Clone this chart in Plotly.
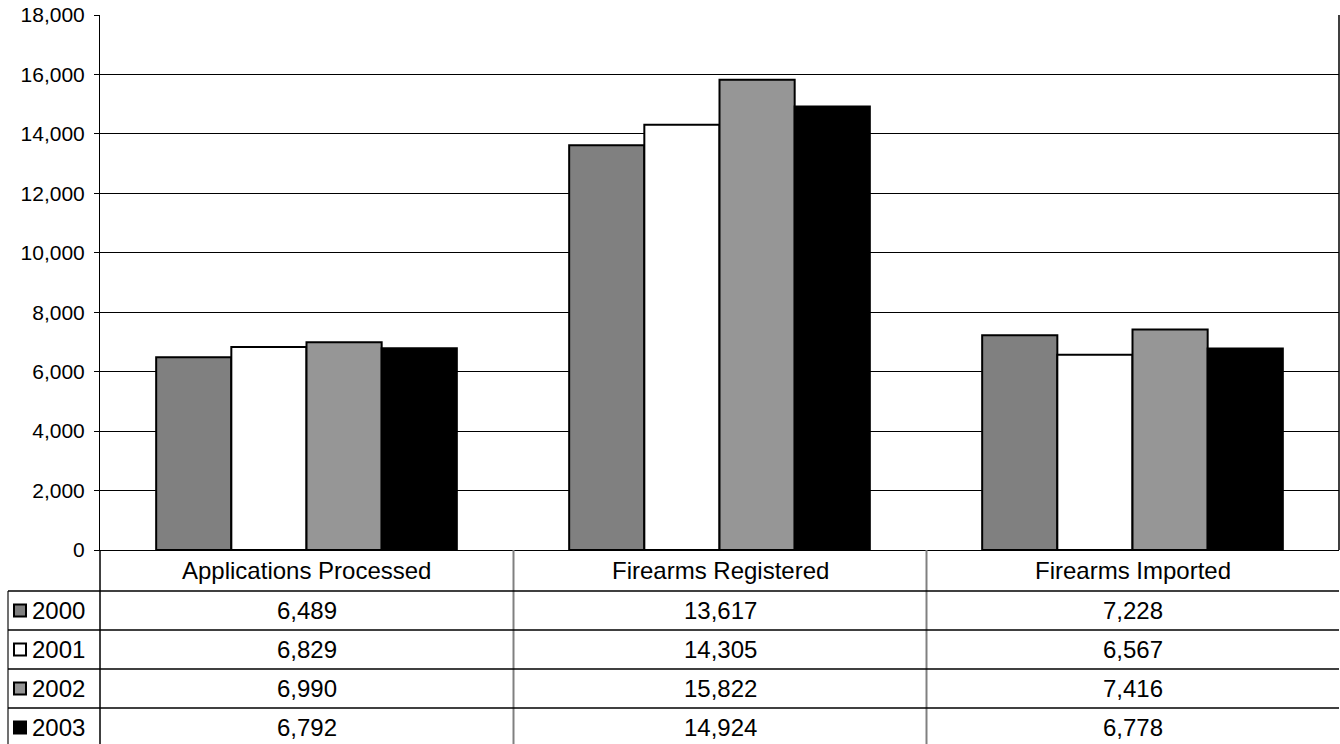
import plotly.graph_objects as go

categories = ["Applications Processed", "Firearms Registered", "Firearms Imported"]
years = ["2000", "2001", "2002", "2003"]
values_2000 = [6489, 13617, 7228]
values_2001 = [6829, 14305, 6567]
values_2002 = [6990, 15822, 7416]
values_2003 = [6792, 14924, 6778]
y_ticks = [0, 2000, 4000, 6000, 8000, 10000, 12000, 14000, 16000, 18000]

series = [values_2000, values_2001, values_2002, values_2003]
fills = ["#808080", "#ffffff", "#969696", "#000000"]

W, H = 1340, 744
L, R, T, B = 100, 1339, 15, 550  # plot area in pixels
FONT = "Liberation Sans, Arial, sans-serif"


def px(x):
    return (x - L) / (R - L)


def py(y):
    return (B - y) / (B - T)


fig = go.Figure()
for name, vals, col in zip(years, series, fills):
    fig.add_trace(go.Bar(
        x=categories, y=vals, name=name,
        marker=dict(color=col, line=dict(color="#000000", width=2)),
    ))

fig.update_layout(
    width=W, height=H,
    margin=dict(l=L, r=W - R, t=T, b=H - B),
    paper_bgcolor="white", plot_bgcolor="white",
    barmode="group", bargap=0.272, bargroupgap=0,
    showlegend=False,
    font=dict(family=FONT, color="#000000"),
)
fig.update_xaxes(
    showticklabels=False, ticks="", showgrid=False,
    showline=True, linecolor="#000000", linewidth=1,
)
fig.update_yaxes(
    range=[0, 18000], tickvals=y_ticks, tickformat=",",
    ticks="outside", ticklen=5, tickcolor="#000000", tickwidth=1,
    ticklabelstandoff=5,
    tickfont=dict(family=FONT, size=21, color="#000000"),
    showgrid=True, gridcolor="#000000", gridwidth=1,
    showline=True, linecolor="#000000", linewidth=1,
    zeroline=False,
)

shapes = []
annotations = []

# right border of the plot area
shapes.append(dict(type="line", xref="paper", yref="paper",
                   x0=px(R), x1=px(R), y0=py(T), y1=py(B),
                   line=dict(color="#000000", width=1.5)))

# data table below the axis
row_lines = [591, 630, 669, 708]
table_bottom = 750
col_edges = [L, 513.5, 926.5, R]
key_left = 8

# axis line continues down through the table
shapes.append(dict(type="line", xref="paper", yref="paper",
                   x0=px(L), x1=px(L), y0=py(B), y1=py(table_bottom),
                   line=dict(color="#000000", width=1.5)))
shapes.append(dict(type="line", xref="paper", yref="paper",
                   x0=px(key_left), x1=px(key_left), y0=py(row_lines[0]), y1=py(table_bottom),
                   line=dict(color="#404040", width=1.5)))
for xe in col_edges[1:-1]:
    shapes.append(dict(type="line", xref="paper", yref="paper",
                       x0=px(xe), x1=px(xe), y0=py(B), y1=py(table_bottom),
                       line=dict(color="#808080", width=2)))
for yl in row_lines:
    shapes.append(dict(type="line", xref="paper", yref="paper",
                       x0=px(key_left), x1=px(R), y0=py(yl), y1=py(yl),
                       line=dict(color="#000000", width=1.5)))

col_centers = [(col_edges[i] + col_edges[i + 1]) / 2 for i in range(3)]
TABLE_FONT = dict(family=FONT, size=24, color="#000000")

for c, cx in zip(categories, col_centers):
    annotations.append(dict(text=c, xref="paper", yref="paper",
                            x=px(cx), y=py((B + row_lines[0]) / 2),
                            xanchor="center", yanchor="middle",
                            showarrow=False, font=TABLE_FONT))

row_tops = row_lines + [row_lines[-1] + 39]
for i, (yr, vals, col) in enumerate(zip(years, series, fills)):
    cy = (row_tops[i] + row_tops[i + 1]) / 2
    # legend key square
    shapes.append(dict(type="rect", xref="paper", yref="paper",
                       x0=px(14), x1=px(26), y0=py(cy - 6), y1=py(cy + 6),
                       fillcolor=col, line=dict(color="#000000", width=2)))
    annotations.append(dict(text=yr, xref="paper", yref="paper",
                            x=px(30), y=py(cy), xanchor="left", yanchor="middle",
                            showarrow=False, font=TABLE_FONT))
    for v, cx in zip(vals, col_centers):
        annotations.append(dict(text=f"{v:,}", xref="paper", yref="paper",
                                x=px(cx), y=py(cy), xanchor="center", yanchor="middle",
                                showarrow=False, font=TABLE_FONT))

fig.update_layout(shapes=shapes, annotations=annotations)
fig.write_html("out.html")
